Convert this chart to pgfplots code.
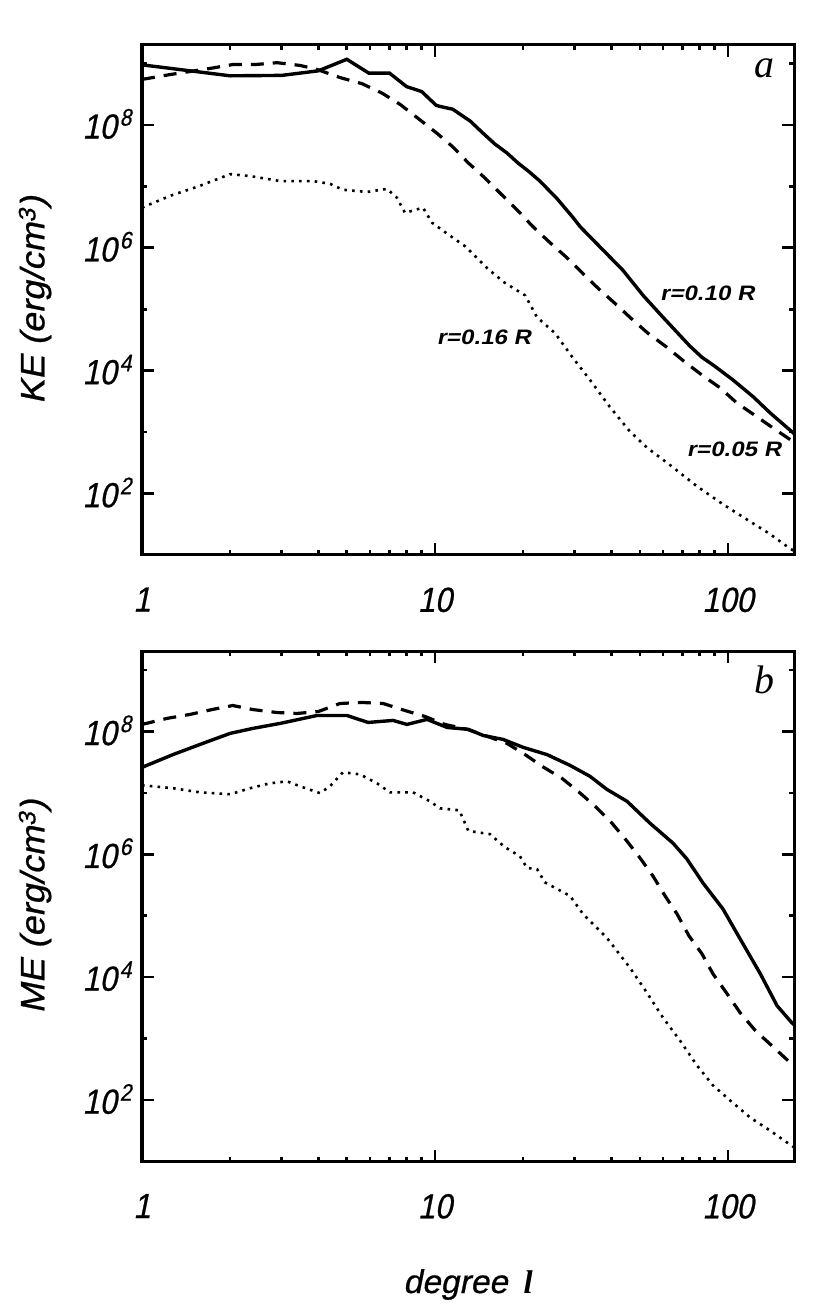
\documentclass[border=0pt]{standalone}
\usepackage{fontspec}
\usepackage{pgfplots}
\pgfplotsset{compat=1.18}
\setmainfont{Liberation Sans}
% horizontal text in the reference is squeezed, rotated text is not
\newfontfamily\tickfam[FakeSlant=0.2,FakeStretch=0.88,FakeBold=0.7]{Liberation Sans}
\newfontfamily\ylabfam[FakeSlant=0.2,FakeStretch=1.07,FakeBold=0.7]{Liberation Sans}
\newfontfamily\xlabfam[FakeSlant=0.2,FakeStretch=1.02,FakeBold=0.7]{Liberation Sans}
\newfontfamily\notefam[FakeSlant=0.2,FakeStretch=1.15,UprightFont={* Bold}]{Liberation Sans}
\newfontfamily\letterfam[ItalicFont={* Italic}]{Liberation Serif}
\newcommand{\tickf}{\tickfam\fontsize{35}{35}\selectfont}
\newcommand{\ylabf}{\ylabfam\fontsize{34}{34}\selectfont}
\newcommand{\notef}{\notefam\fontsize{21}{21}\selectfont}
\newcommand{\tens}[1]{10\hspace{3bp}\raisebox{13bp}{\fontsize{24}{24}\selectfont #1}}
\pgfplotsset{
    scale only axis,
    width=652bp, height=510bp,
    xmin=1, xmax=168, ymin=10, ymax=2e9,
    axis line style={line width=3bp},
    tick align=inside,
    tick style={black,line width=2.6bp},
    major tick length=12bp,
    minor tick length=5bp,
    xtick={1,10,100},
    xticklabels={1,10,100},
    minor xtick={2,3,4,5,6,7,8,9,20,30,40,50,60,70,80,90},
    ytick={1e2,1e4,1e6,1e8},
    yticklabels={\tens{2},\tens{4},\tens{6},\tens{8}},
    minor ytick={1e1,1e3,1e5,1e7,1e9},
    xticklabel style={font=\tickf},
    yticklabel style={font=\tickf,yshift=1bp},
    xticklabel shift=29bp,
    yticklabel shift=7bp,
    y label style={font=\ylabf,at={(axis description cs:-0.164,0.5)},anchor=center},
    x label style={font=\xlabfam\fontsize{33}{33}\selectfont},
    solid line/.style={black,line width=3.4bp,no marks},
    dash line/.style={black,line width=3.2bp,no marks,dash pattern=on 13bp off 9bp},
    dot line/.style={black,line width=2.6bp,no marks,dash pattern=on 2.6bp off 5.2bp},
}
\begin{document}
\begin{tikzpicture}
\path[use as bounding box] (0,0) rectangle (830bp,1315bp);
\begin{loglogaxis}[anchor=south west, at={(142bp,760bp)}, ylabel={KE (erg/cm\textsuperscript{3})}]
% r=0.10 R
\addplot[solid line] coordinates {
(1,9.5e8) (2,6.3e8) (3,6.4e8) (4,7.6e8) (5,1.17e9) (5.95,6.95e8) (7,6.95e8) (8,4.2e8)
(9,3.5e8) (10.1,2.08e8) (10.4,2.0e8) (11.5,1.8e8) (13.2,1.15e8) (14.6,7.3e7) (16,4.9e7)
(17.6,3.5e7) (19.2,2.4e7) (20.8,1.78e7) (22.8,1.22e7) (26.1,6.3e6) (29.6,3.1e6) (31.3,2.2e6)
(43.8,4.3e5) (51.3,1.68e5) (60,7.4e4) (74.2,2.5e4) (81.5,1.65e4) (88.9,1.24e4) (104,7060) (122,3750)
(139,2070) (165,1020) (168,945)
};
% r=0.05 R
\addplot[dash line] coordinates {
(1,5.5e8) (1.246,6.6e8) (1.706,8.3e8) (2.04,9.6e8) (2.43,9.6e8) (2.89,1.03e9) (3.46,9.3e8)
(3.96,8.0e8) (4.74,5.9e8) (5.63,4.7e8) (6.59,3.3e8) (7.6,2.16e8) (8.75,1.28e8) (10.16,7.3e7)
(11.5,4.4e7) (13,2.4e7) (14.8,1.37e7) (16.9,7.3e6) (19.2,4.0e6) (21.6,2.2e6) (24.7,1.21e6)
(28.2,6.9e5) (32,3.8e5) (36,2.2e5) (41.1,1.25e5) (47,6.9e4) (53.3,4.07e4) (61.9,2.4e4)
(71.3,1.38e4) (81.5,8500) (94,5250) (107,3000) (124,1850) (142,1180) (165,726) (168,700)
};
% r=0.16 R
\addplot[dot line] coordinates {
(1,4.5e6) (1.246,7.0e6) (1.577,1.02e7) (2,1.58e7) (2.34,1.47e7) (2.96,1.22e7) (3.83,1.22e7)
(4.38,1.1e7) (4.85,8.8e6) (5.86,8.1e6) (6.86,9.1e6) (7.42,6.5e6) (7.9,3.7e6) (9.1,4.5e6)
(9.77,2.56e6) (11,1.7e6) (12.7,1.05e6) (15.1,4.6e5) (17.3,2.7e5) (20.3,1.68e5) (22.3,7.4e4)
(25.7,4.07e4) (29.6,1.6e4) (33.8,7080) (39.5,2580) (46.3,1020) (52.9,560) (64.4,275)
(78.4,131) (96.1,67) (119,35) (139,22) (160,13.5) (168,11.6)
};
\node[font=\notef,anchor=center] at (rel axis cs:0.867,0.514) {r=0.10 R};
\node[font=\notef,anchor=center] at (rel axis cs:0.5245,0.4275) {r=0.16 R};
\node[font=\notef,anchor=center] at (rel axis cs:0.908,0.208) {r=0.05 R};
\node[font=\letterfam\itshape\fontsize{40}{40}\selectfont] at (rel axis cs:0.955,0.955) {a};
\end{loglogaxis}
\begin{loglogaxis}[anchor=south west, at={(142bp,153.5bp)}, ylabel={ME (erg/cm\textsuperscript{3})},
    xlabel={degree\hspace{16bp}{\letterfam\bfseries\itshape l}},
    x label style={at={(axis description cs:0.5,-0.2412)},anchor=center}]
\addplot[solid line] coordinates {
(1,2.6e7) (1.276,4.2e7) (1.615,6.4e7) (2,9.3e7) (2.39,1.12e8) (2.96,1.35e8) (3.96,1.82e8)
(5,1.82e8) (5.91,1.4e8) (7.19,1.51e8) (8.02,1.3e8) (9.39,1.57e8) (11,1.16e8) (13,1.08e8)
(14.6,8.6e7) (17.1,7.4e7) (20,5.5e7) (24.1,4.2e7) (28.9,2.8e7) (33.8,1.86e7) (38.6,1.14e7)
(45.2,7.3e6) (54.2,3.2e6) (64.9,1.52e6) (72.4,8.4e5) (82.2,3.4e5) (96.1,1.29e5) (110,4.2e4)
(129,1.13e4) (147,3440) (165,1820) (168,1690)
};
\addplot[dash line] coordinates {
(1,1.3e8) (1.217,1.63e8) (1.458,1.89e8) (1.734,2.27e8) (2.04,2.64e8) (2.39,2.27e8) (2.89,2.03e8)
(3.38,1.96e8) (4,2.11e8) (4.74,2.85e8) (5.63,2.96e8) (6.65,2.85e8) (7.9,2.19e8) (9.25,1.75e8)
(10.8,1.3e8) (12.9,1.08e8) (15.1,8.3e7) (17.6,6.4e7) (20.3,4.2e7) (23.2,2.7e7) (27.1,1.73e7)
(31.3,9.9e6) (35.2,6.05e6) (40.2,3.2e6) (45.2,1.64e6) (50.1,8.7e5) (55.5,4.4e5) (61,2.1e5)
(67,1.07e5) (73.6,4.7e4) (81.5,2.4e4) (88.9,1.13e4) (99.3,5370) (110,2640) (124,1350)
(141,770) (163,407) (168,365)
};
\addplot[dot line] coordinates {
(1,1.33e7) (1.276,1.19e7) (1.577,1.02e7) (2,9.5e6) (2.34,1.19e7) (2.73,1.43e7) (3.13,1.54e7)
(3.46,1.28e7) (4.05,9.9e6) (4.38,1.28e7) (4.85,2.16e7) (5.55,2.0e7) (6.34,1.43e7) (7.02,1.02e7)
(8.41,1.02e7) (9.61,7.3e6) (10.4,5.6e6) (12.1,5.2e6) (12.7,3.1e6) (13,2.4e6) (15.4,2.13e6)
(17.3,1.31e6) (19.5,9.3e5) (20.6,6.0e5) (22.3,5.75e5) (23.7,3.5e5) (28.9,2.1e5) (32,1.07e5)
(38.6,4.37e4) (46.3,1.42e4) (52.9,5580) (60,2190) (68.6,930) (78.4,365) (88.9,173) (101.6,99)
(119,52) (139,32) (160,20) (168,17)
};
\node[font=\letterfam\itshape\fontsize{40}{40}\selectfont] at (rel axis cs:0.955,0.945) {b};
\end{loglogaxis}
\end{tikzpicture}
\end{document}
